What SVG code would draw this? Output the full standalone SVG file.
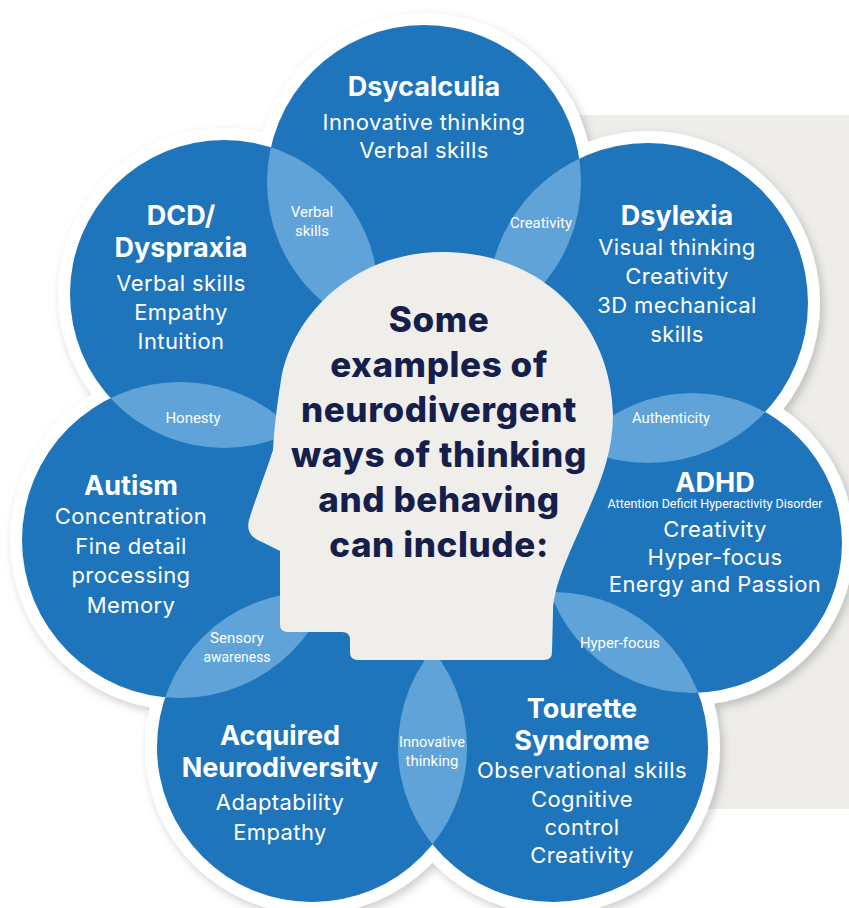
<svg xmlns="http://www.w3.org/2000/svg" width="849" height="908" viewBox="0 0 849 908">
  <defs>
    <style>
      .blue { fill: #1f75bb; }
      .rim { fill: #ffffff; }
      .lens { fill: #5fa3d9; }
      .title { font-family: Inter, "Open Sans", sans-serif; font-weight: 700; font-size: 27px; fill: #ffffff; text-anchor: middle; }
      .body { font-family: Inter, "Open Sans", sans-serif; font-weight: 400; font-size: 22px; letter-spacing: 0.4px; fill: #ffffff; text-anchor: middle; }
      .small { font-family: Roboto, "Liberation Sans", sans-serif; font-weight: 400; font-size: 15px; fill: #ffffff; text-anchor: middle; }
      .center { font-family: Inter, "Open Sans", sans-serif; font-weight: 800; font-size: 35px; letter-spacing: 0.6px; fill: #161f4c; text-anchor: middle; }
    </style>
    <filter id="shadow" x="-10%" y="-10%" width="120%" height="120%">
      <feDropShadow dx="3" dy="4" stdDeviation="5" flood-color="#000000" flood-opacity="0.2"/>
    </filter>
    <clipPath id="c-dsy"><circle cx="424" cy="182" r="157"/></clipPath>
    <clipPath id="c-dyx"><circle cx="648" cy="303" r="160"/></clipPath>
    <clipPath id="c-adhd"><circle cx="692" cy="543" r="150"/></clipPath>
    <clipPath id="c-tour"><circle cx="553" cy="747" r="155"/></clipPath>
    <clipPath id="c-acq"><circle cx="312" cy="747" r="155"/></clipPath>
    <clipPath id="c-aut"><circle cx="180" cy="540" r="158"/></clipPath>
    <clipPath id="c-dcd"><circle cx="224" cy="294" r="154"/></clipPath>
  </defs>

  <rect x="575" y="115" width="274" height="694" fill="#eeede9"/>

  <g id="rims" filter="url(#shadow)">
    <circle class="rim" cx="424" cy="182" r="169"/>
    <circle class="rim" cx="648" cy="303" r="172"/>
    <circle class="rim" cx="692" cy="543" r="162"/>
    <circle class="rim" cx="553" cy="747" r="167"/>
    <circle class="rim" cx="312" cy="747" r="167"/>
    <circle class="rim" cx="180" cy="540" r="170"/>
    <circle class="rim" cx="224" cy="294" r="166"/>
  </g>

  <g id="dsycalculia">
    <circle class="blue" cx="424" cy="182" r="157"/>
  </g>
  <g id="dyslexia">
    <circle class="blue" cx="648" cy="303" r="160"/>
  </g>
  <g id="adhd">
    <circle class="blue" cx="692" cy="543" r="150"/>
  </g>
  <g id="tourette">
    <circle class="blue" cx="553" cy="747" r="155"/>
  </g>
  <g id="acquired">
    <circle class="blue" cx="312" cy="747" r="155"/>
  </g>
  <g id="autism">
    <circle class="blue" cx="180" cy="540" r="158"/>
  </g>
  <g id="dcd">
    <circle class="blue" cx="224" cy="294" r="154"/>
  </g>

  <g id="overlaps">
    <circle class="lens" cx="224" cy="294" r="154" clip-path="url(#c-dsy)"/>
    <circle class="lens" cx="648" cy="303" r="160" clip-path="url(#c-dsy)"/>
    <circle class="lens" cx="692" cy="543" r="150" clip-path="url(#c-dyx)"/>
    <circle class="lens" cx="553" cy="747" r="155" clip-path="url(#c-adhd)"/>
    <circle class="lens" cx="312" cy="747" r="155" clip-path="url(#c-tour)"/>
    <circle class="lens" cx="180" cy="540" r="158" clip-path="url(#c-acq)"/>
    <circle class="lens" cx="224" cy="294" r="154" clip-path="url(#c-aut)"/>
    <text class="small" x="312" y="217">Verbal</text>
    <text class="small" x="312" y="236">skills</text>
    <text class="small" x="541" y="228" textLength="62" lengthAdjust="spacingAndGlyphs">Creativity</text>
    <text class="small" x="671" y="423" textLength="78" lengthAdjust="spacingAndGlyphs">Authenticity</text>
    <text class="small" x="620" y="648" textLength="80" lengthAdjust="spacingAndGlyphs">Hyper-focus</text>
    <text class="small" x="432" y="747" textLength="66" lengthAdjust="spacingAndGlyphs">Innovative</text>
    <text class="small" x="432" y="766">thinking</text>
    <text class="small" x="237" y="643">Sensory</text>
    <text class="small" x="237" y="662" textLength="67" lengthAdjust="spacingAndGlyphs">awareness</text>
    <text class="small" x="193" y="423">Honesty</text>
  </g>

  <g id="head">
    <path fill="#efeeeb" d="M 358 660 L 544 660 Q 552 660 552 652 L 553 612 C 553 585 572 548 586 515 C 602 480 613 450 613 415 C 611 320 540 254 447 252 C 355 250 292 315 281 380 C 277 405 274 430 273 450 C 265 475 255 500 249 520 C 246 532 252 538 262 542 L 280 551 L 280 624 Q 280 632 288 632 L 342 632 Q 350 632 350 640 L 350 652 Q 350 660 358 660 Z"/>
    <text class="center" x="439" y="332">Some</text>
    <text class="center" x="439" y="377">examples of</text>
    <text class="center" x="439" y="422">neurodivergent</text>
    <text class="center" x="439" y="467">ways of thinking</text>
    <text class="center" x="439" y="512">and behaving</text>
    <text class="center" x="439" y="557">can include:</text>
  </g>

  <g id="labels">
    <text class="title" x="424" y="96">Dsycalculia</text>
    <text class="body" x="424" y="130">Innovative thinking</text>
    <text class="body" x="424" y="158">Verbal skills</text>

    <text class="title" x="677" y="225">Dsylexia</text>
    <text class="body" x="677" y="255">Visual thinking</text>
    <text class="body" x="677" y="284">Creativity</text>
    <text class="body" x="677" y="313">3D mechanical</text>
    <text class="body" x="677" y="342">skills</text>

    <text class="title" x="181" y="225">DCD/</text>
    <text class="title" x="181" y="257">Dyspraxia</text>
    <text class="body" x="181" y="291">Verbal skills</text>
    <text class="body" x="181" y="320">Empathy</text>
    <text class="body" x="181" y="349">Intuition</text>

    <text class="title" x="131" y="495">Autism</text>
    <text class="body" x="131" y="524">Concentration</text>
    <text class="body" x="131" y="554">Fine detail</text>
    <text class="body" x="131" y="583">processing</text>
    <text class="body" x="131" y="613">Memory</text>

    <text class="title" x="715" y="492">ADHD</text>
    <text class="small" x="715" y="508" style="font-size:13px" textLength="215" lengthAdjust="spacingAndGlyphs">Attention Deficit Hyperactivity Disorder</text>
    <text class="body" x="715" y="537">Creativity</text>
    <text class="body" x="715" y="565">Hyper-focus</text>
    <text class="body" x="715" y="592">Energy and Passion</text>

    <text class="title" x="582" y="718">Tourette</text>
    <text class="title" x="582" y="750">Syndrome</text>
    <text class="body" x="582" y="778">Observational skills</text>
    <text class="body" x="582" y="807">Cognitive</text>
    <text class="body" x="582" y="835">control</text>
    <text class="body" x="582" y="863">Creativity</text>

    <text class="title" x="280" y="745">Acquired</text>
    <text class="title" x="280" y="777">Neurodiversity</text>
    <text class="body" x="280" y="810">Adaptability</text>
    <text class="body" x="280" y="840">Empathy</text>
  </g>
</svg>
